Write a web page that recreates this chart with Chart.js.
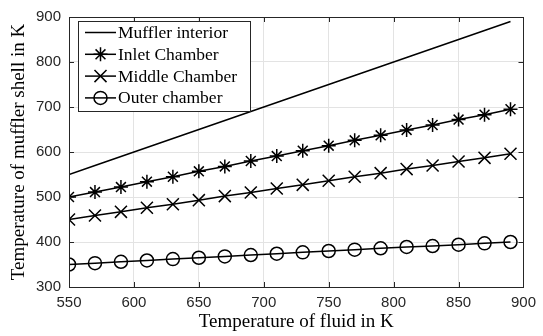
<!DOCTYPE html>
<html>
<head>
<meta charset="utf-8">
<title>Muffler shell temperature</title>
<script src="https://cdn.jsdelivr.net/npm/chart.js@4.4.0/dist/chart.umd.min.js"></script>
<style>
  html, body { margin: 0; padding: 0; background: #fff; }
  #tempChart { display: block; }
</style>
</head>
<body>
<canvas id="tempChart" width="543" height="336"></canvas>
<script>
// fluid temperature (K) at each computed point
const fluidTemp = [550, 570, 590, 610, 630, 650, 670, 690, 710, 730, 750, 770, 790, 810, 830, 850, 870, 890];

// shell temperature (K) for each region
const mufflerInterior = [550, 570, 590, 610, 630, 650, 670, 690, 710, 730, 750, 770, 790, 810, 830, 850, 870, 890];
const inletChamber  = [500, 511, 522, 534, 545, 557, 568, 580, 591, 603, 614, 626, 637, 649, 660, 672, 683, 695];
const middleChamber = [450, 459, 467, 476, 484, 493, 502, 510, 519, 527, 536, 545, 553, 562, 570, 579, 587, 596];
const outerChamber  = [350, 353, 356, 359, 362, 365, 368, 371, 374, 377, 380, 383, 386, 389, 391, 394, 397, 400];

const xTicks = [550, 600, 650, 700, 750, 800, 850, 900];
const yTicks = [300, 400, 500, 600, 700, 800, 900];

const frameColor = '#262626';
const gridColor = '#e3e3e3';
const serif = '"Liberation Serif", "Times New Roman", serif';
const sans = '"Liberation Sans", Arial, Helvetica, sans-serif';

function pts(ys) {
    return fluidTemp.map((x, i) => ({ x: x, y: ys[i] }));
}

function series(label, ys, style, radius) {
    return {
        label: label,
        data: pts(ys),
        borderColor: '#000',
        borderWidth: 1.5,
        pointStyle: style,
        pointRadius: style ? radius : 0,
        pointBorderColor: '#000',
        pointBorderWidth: 1.5,
        pointBackgroundColor: 'rgba(0,0,0,0)',
        fill: false,
        tension: 0
    };
}

// box around the plot, inward tick marks and the legend
const framePlugin = {
    id: 'frame',
    afterDatasetsDraw(chart) {
        const ctx = chart.ctx;
        const a = chart.chartArea;
        const xs = chart.scales.x, ys = chart.scales.y;
        const tl = 5;
        ctx.save();
        ctx.strokeStyle = frameColor;
        ctx.lineWidth = 1;
        ctx.beginPath();
        xTicks.forEach(v => {
            const px = Math.round(xs.getPixelForValue(v)) + 0.5;
            ctx.moveTo(px, a.bottom); ctx.lineTo(px, a.bottom - tl);
            ctx.moveTo(px, a.top); ctx.lineTo(px, a.top + tl);
        });
        yTicks.forEach(v => {
            const py = Math.round(ys.getPixelForValue(v)) + 0.5;
            ctx.moveTo(a.left, py); ctx.lineTo(a.left + tl, py);
            ctx.moveTo(a.right, py); ctx.lineTo(a.right - tl, py);
        });
        ctx.stroke();
        ctx.strokeRect(Math.round(a.left) + 0.5, Math.round(a.top) + 0.5,
            Math.round(a.right - a.left), Math.round(a.bottom - a.top));

        // legend
        const lx = 78.5, ly = 21.5, lw = 172, lh = 90;
        ctx.fillStyle = '#fff';
        ctx.fillRect(lx, ly, lw, lh);
        ctx.strokeStyle = frameColor;
        ctx.strokeRect(lx, ly, lw, lh);
        ctx.font = '17.5px ' + serif;
        ctx.textBaseline = 'middle';
        chart.data.datasets.forEach((ds, i) => {
            const y = 32.5 + i * 21.8;
            ctx.strokeStyle = '#000';
            ctx.lineWidth = 1.5;
            ctx.beginPath();
            ctx.moveTo(85, y); ctx.lineTo(116, y);
            ctx.stroke();
            if (ds.pointStyle) {
                ctx.fillStyle = 'rgba(0,0,0,0)';
                Chart.helpers.drawPoint(ctx, {
                    pointStyle: ds.pointStyle,
                    radius: ds.pointRadius,
                    borderWidth: 1.5,
                    rotation: 0
                }, 100.5, y);
            }
            ctx.fillStyle = '#000';
            ctx.fillText(ds.label, 118, y + 1);
        });
        ctx.restore();
    }
};

const chart = new Chart(document.getElementById('tempChart'), {
    type: 'line',
    data: {
        datasets: [
            series('Muffler interior', mufflerInterior, false, 0),
            series('Inlet Chamber', inletChamber, 'star', 7),
            series('Middle Chamber', middleChamber, 'crossRot', 8.5),
            series('Outer chamber', outerChamber, 'circle', 6.5)
        ]
    },
    options: {
        responsive: false,
        animation: false,
        layout: { padding: { left: 0, right: 11, top: 13, bottom: 0 } },
        plugins: {
            legend: { display: false },
            tooltip: { enabled: false }
        },
        scales: {
            x: {
                type: 'linear',
                min: 550,
                max: 900,
                afterBuildTicks: s => { s.ticks = xTicks.map(v => ({ value: v })); },
                afterFit: s => { s.height = 49; },
                grid: { color: gridColor, drawTicks: false },
                border: { display: false },
                ticks: { color: frameColor, padding: 7, font: { family: sans, size: 15 } },
                title: {
                    display: true,
                    text: 'Temperature of fluid in K',
                    color: '#000',
                    padding: { top: 0, bottom: 3 },
                    font: { family: serif, size: 19 }
                }
            },
            y: {
                min: 300,
                max: 900,
                afterBuildTicks: s => { s.ticks = yTicks.map(v => ({ value: v })); },
                afterFit: s => { s.width = 69; },
                grid: { color: gridColor, drawTicks: false },
                border: { display: false },
                ticks: { color: frameColor, padding: 8, font: { family: sans, size: 15 } },
                title: {
                    display: true,
                    text: 'Temperature of muffler shell in K',
                    color: '#000',
                    padding: { top: 8, bottom: 0 },
                    font: { family: serif, size: 19 }
                }
            }
        }
    },
    plugins: [framePlugin]
});
</script>
</body>
</html>
